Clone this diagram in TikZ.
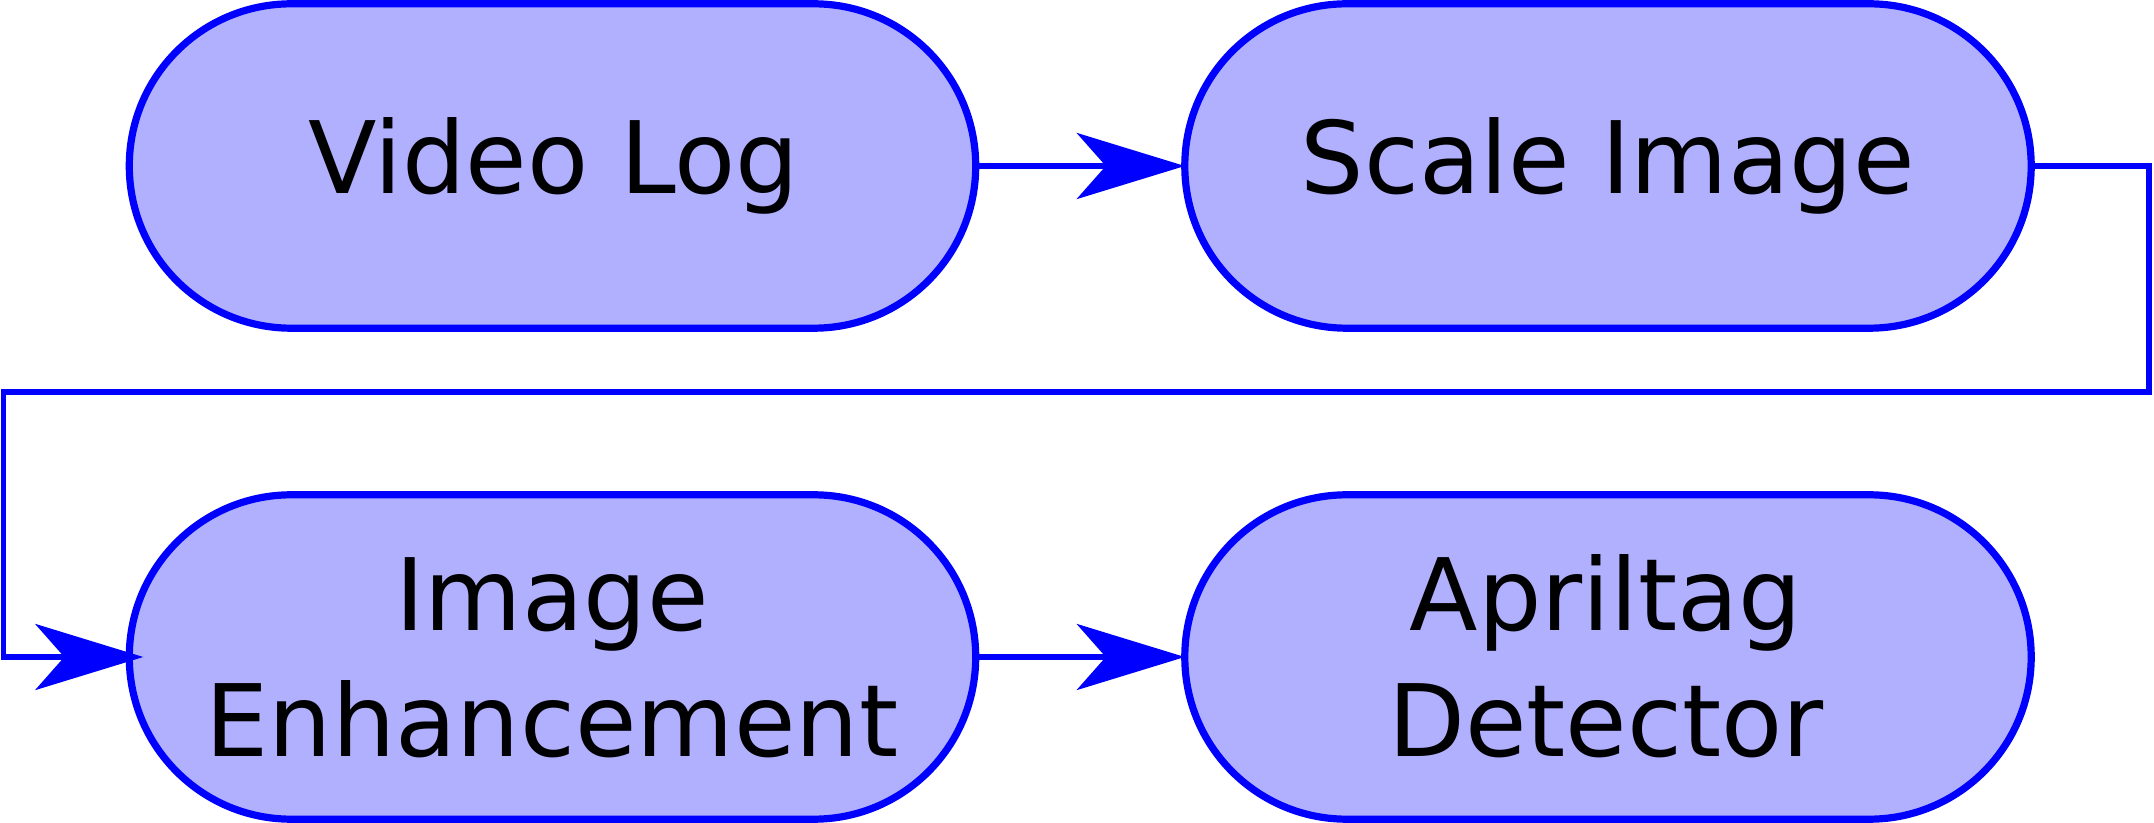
\documentclass[tikz,border=0pt]{standalone}
\usepackage{fontspec}
\setmainfont{DejaVu Sans}
\usetikzlibrary{arrows.meta}
\definecolor{boxfill}{HTML}{B0B0FF}
\definecolor{boxline}{HTML}{0000FF}
\tikzset{
  stadium/.style={draw=boxline, fill=boxfill, line width=3.6pt, rectangle,
    rounded corners=81pt, minimum width=423.2pt, minimum height=162.2pt,
    outer sep=0pt, inner sep=0pt},
  lbl/.style={font=\fontsize{50pt}{63pt}\selectfont, inner sep=0pt, outer sep=0pt, text=black},
  conn/.style={draw=boxline, line width=2.75pt,
    -{Stealth[length=54pt, width=33pt, inset=14.5pt]}},
}
\begin{document}
\begin{tikzpicture}[x=0.5pt, y=-0.5pt]
\useasboundingbox (0,0) rectangle (2154,823);
% boxes
\node[stadium] (vlog)  at (552.5,166) {};
\node[stadium] (scale) at (1608,166) {};
\node[stadium] (ie)    at (552.5,657) {};
\node[stadium] (april) at (1608,657) {};
% labels
\node[lbl, anchor=base] (vlogt)  at (553.5,194) {Video Log};
\node[lbl, anchor=base] (scalet) at (1607.5,194) {Scale Image};
\node[lbl, anchor=base, align=center] (iet) at (552,756) {Image\\Enhancement};
\node[lbl, anchor=base, align=center] (aprilt) at (1606,756) {Apriltag\\Detector};
% feedback route
\coordinate (fbR) at (2149,392);
\coordinate (fbL) at (3.7,392);
% connectors
\draw[conn] (vlog.east) -- (scale.west);
\draw[conn] (scale.east) -| (fbR) -- (fbL) |- ([xshift=7pt]ie.west);
\draw[conn] (ie.east) -- (april.west);
\end{tikzpicture}
\end{document}
